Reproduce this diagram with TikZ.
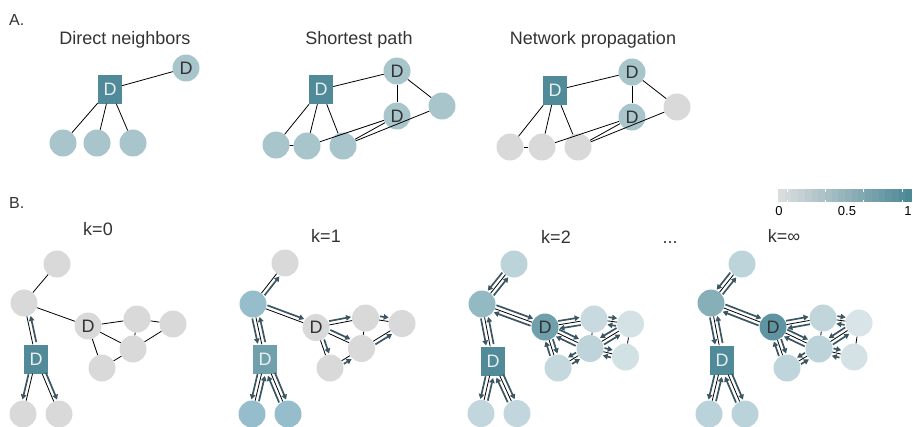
\documentclass[tikz,border=0pt]{standalone}
\usepackage{fontspec}
\setmainfont{Liberation Sans}
\usetikzlibrary{calc,arrows.meta}

\definecolor{ink}{HTML}{333333}
\definecolor{gry}{HTML}{D9D9D9}
\definecolor{tealD}{HTML}{518A98}
\definecolor{tealA}{HTML}{A8C5CC}
\definecolor{flowc}{HTML}{3B5663}
\definecolor{sqtxt}{HTML}{E8EFF1}
\definecolor{cblo}{HTML}{DADDDE}
\definecolor{cbhi}{HTML}{4E8997}
% k=1 scores
\definecolor{oHub}{HTML}{96BDCC}
\definecolor{oSq}{HTML}{70A0AC}
% k=2 scores
\definecolor{tTop}{HTML}{BBD3D9}
\definecolor{tHub}{HTML}{93B9C2}
\definecolor{tD}{HTML}{6FA0AC}
\definecolor{tLeaf}{HTML}{C2D6DE}
\definecolor{tA}{HTML}{C8DADF}
\definecolor{tB}{HTML}{D5E2E5}
\definecolor{tC}{HTML}{BED4DA}
\definecolor{tE}{HTML}{D2E1E4}
\definecolor{tF}{HTML}{C4D8DD}
% k=infinity scores
\definecolor{wTop}{HTML}{BCD4DA}
\definecolor{wHub}{HTML}{86AFB8}
\definecolor{wD}{HTML}{5F95A2}
\definecolor{wLeaf}{HTML}{BAD2DA}
\definecolor{wA}{HTML}{C1D6DB}
\definecolor{wB}{HTML}{D8E4E7}
\definecolor{wC}{HTML}{BCD3D9}
\definecolor{wE}{HTML}{D5E2E5}
\definecolor{wF}{HTML}{BED5DB}

\tikzset{
  dot/.style={circle,inner sep=0pt,minimum size=27pt,text=ink,
    font=\fontsize{18}{18}\selectfont},
  sqnode/.style={rectangle,inner sep=0pt,minimum width=24pt,minimum height=29pt,
    fill=tealD,text=sqtxt,font=\fontsize{18}{18}\selectfont},
  link/.style={draw=black,line width=0.8pt},
  flowarrow/.style={draw=flowc,line width=1.7pt,-{Triangle[length=5pt,width=5.5pt]}},
  ttl/.style={font=\fontsize{18}{18}\selectfont,text=ink,anchor=base,inner sep=0pt},
  plabel/.style={font=\fontsize{16}{16}\selectfont,text=ink,anchor=base west,inner sep=0pt},
  cblabel/.style={font=\fontsize{13}{13}\selectfont,text=black,anchor=base,inner sep=0pt},
}

% offset flow arrows: L = left of travel, R = right of travel
% #1 source, #2 target, #3 gap at source, #4 gap at target
\newcommand\flowL[4]{\draw[flowarrow] ($(#1)!#3!(#2)!3.8pt!90:(#2)$) -- ($(#2)!#4!(#1)!3.8pt!-90:(#1)$);}
\newcommand\flowR[4]{\draw[flowarrow] ($(#1)!#3!(#2)!3.8pt!-90:(#2)$) -- ($(#2)!#4!(#1)!3.8pt!90:(#1)$);}
\newcommand\flowLL[4]{\flowL{#1}{#2}{#3}{#4}\flowL{#2}{#1}{#4}{#3}}
\newcommand\flowRR[4]{\flowR{#1}{#2}{#3}{#4}\flowR{#2}{#1}{#4}{#3}}

\begin{document}
\begin{tikzpicture}[x=1pt,y=-1pt]
\useasboundingbox (0,0) rectangle (913,426);

% ---------------- A. ----------------
\node[plabel] at (9,25) {A.};
\node[ttl] at (125,44) {Direct neighbors};
\node[ttl] at (359,44) {Shortest path};
\node[ttl] at (593,44) {Network propagation};

% direct neighbors
\node[sqnode] (aS) at (110,89) {D};
\node[dot,fill=tealA] (aD) at (186,68) {D};
\node[dot,fill=tealA] (a1) at (63,143) {};
\node[dot,fill=tealA] (a2) at (97,143) {};
\node[dot,fill=tealA] (a3) at (133,143) {};
\draw[link] (aS) -- (aD);
\draw[link] (aS) -- (a1);
\draw[link] (aS) -- (a2);
\draw[link] (aS) -- (a3);

% shortest path
\node[sqnode] (bS) at (321,89.5) {D};
\node[dot,fill=tealA] (bT) at (397,71) {D};
\node[dot,fill=tealA] (bM) at (397,116) {D};
\node[dot,fill=tealA] (bR) at (442,106) {};
\node[dot,fill=tealA] (b1) at (276,145) {};
\node[dot,fill=tealA] (b2) at (307,146) {};
\node[dot,fill=tealA] (b3) at (343,146) {};
\foreach \u/\v in {bS/bT,bS/b1,bS/b2,bS/b3,bT/bM,bT/bR,b1/b2,b2/bM,b3/bM,b3/bR}
  \draw[link] (\u) -- (\v);

% network propagation
\node[sqnode] (cS) at (555,90.5) {D};
\node[dot,fill=tealA] (cT) at (632,72) {D};
\node[dot,fill=tealA] (cM) at (632,117) {D};
\node[dot,fill=gry] (cR) at (677,107) {};
\node[dot,fill=gry] (c1) at (510,147) {};
\node[dot,fill=gry] (c2) at (542,147) {};
\node[dot,fill=gry] (c3) at (578,147) {};
\foreach \u/\v in {cS/cT,cS/c1,cS/c2,cS/c3,cT/cM,cT/cR,c1/c2,c2/cM,c3/cM,c3/cR}
  \draw[link] (\u) -- (\v);

% ---------------- B. ----------------
\node[plabel] at (9,208) {B.};
\node[ttl] at (98,235) {k=0};
\node[ttl] at (326,242) {k=1};
\node[ttl] at (556,243) {k=2};
\node[ttl] at (670,243) {...};
\node[ttl] at (784,242) {k=∞};

% colour scale
\foreach \i in {0,...,19} {
  \pgfmathsetmacro\pc{\i*100/19}
  \fill[cbhi!\pc!cblo] ({778+\i*6.7},189) rectangle ({778+(\i+1)*6.7+0.3},202);
}
\foreach \x in {787,825,863,902} {
  \draw[white,line width=0.6pt] (\x,189) -- (\x,191.5);
  \draw[white,line width=0.6pt] (\x,199.5) -- (\x,202);
}
\node[cblabel] at (779,215) {0};
\node[cblabel] at (847,215) {0.5};
\node[cblabel] at (908,215) {1};

% k=0
\node[dot,fill=gry] (zT) at (57,264) {};
\node[dot,fill=gry] (zH) at (24,303) {};
\node[dot,fill=gry] (zD) at (88,326) {D};
\node[sqnode] (zS) at (36,359) {D};
\node[dot,fill=gry] (zL) at (23,414) {};
\node[dot,fill=gry] (zR) at (59,414) {};
\node[dot,fill=gry] (z1) at (137,319) {};
\node[dot,fill=gry] (z2) at (173,324) {};
\node[dot,fill=gry] (z3) at (133,349) {};
\node[dot,fill=gry] (z4) at (102,368) {};
\foreach \u/\v in {zT/zH,zH/zD,zH/zS,zS/zL,zS/zR,zD/z1,zD/z3,zD/z4,z1/z2,z1/z3,z2/z3,z3/z4}
  \draw[link] (\u) -- (\v);
\flowR{zS}{zH}{16.5pt}{14pt}
\flowR{zS}{zL}{16.5pt}{14pt}
\flowL{zS}{zR}{16.5pt}{14pt}

% k=1
\node[dot,fill=gry] (oT) at (285,263) {};
\node[dot,fill=oHub] (oH) at (253,304) {};
\node[dot,fill=gry] (oD) at (316,327.5) {D};
\node[sqnode,fill=oSq] (oS) at (265,359) {D};
\node[dot,fill=oHub] (oL) at (252,414) {};
\node[dot,fill=oHub] (oR) at (288,414) {};
\node[dot,fill=gry] (o1) at (365.5,318) {};
\node[dot,fill=gry] (o2) at (402,323.5) {};
\node[dot,fill=gry] (o3) at (361.5,348.5) {};
\node[dot,fill=gry] (o4) at (330,368) {};
\foreach \u/\v in {oT/oH,oH/oD,oH/oS,oS/oL,oS/oR,oD/o1,oD/o3,oD/o4,o1/o2,o1/o3,o2/o3,o3/o4}
  \draw[link] (\u) -- (\v);
\flowR{oH}{oT}{14pt}{14pt}
\flowL{oH}{oD}{14pt}{14pt}
\flowRR{oH}{oS}{14pt}{16.5pt}
\flowRR{oS}{oL}{16.5pt}{14pt}
\flowLL{oS}{oR}{16.5pt}{14pt}
\flowL{oD}{o1}{14pt}{14pt}
\flowL{o1}{o2}{14pt}{14pt}
\flowL{oD}{o3}{14pt}{14pt}
\flowR{o3}{o2}{14pt}{14pt}
\flowL{oD}{o4}{14pt}{14pt}
\flowR{o4}{o3}{14pt}{14pt}

% k=2
\node[dot,fill=tTop] (tT) at (514,264) {};
\node[dot,fill=tHub] (tH) at (482,304) {};
\node[dot,fill=tD] (tDn) at (545,327) {D};
\node[sqnode] (tS) at (493,361) {D};
\node[dot,fill=tLeaf] (tL) at (481,413.5) {};
\node[dot,fill=tLeaf] (tR) at (517,413.5) {};
\node[dot,fill=tA] (t1) at (594,319) {};
\node[dot,fill=tB] (t2) at (630.5,324) {};
\node[dot,fill=tC] (t3) at (590,348.5) {};
\node[dot,fill=tE] (t4) at (625.5,357) {};
\node[dot,fill=tF] (t5) at (558,368) {};
\foreach \u/\v in {tT/tH,tH/tDn,tH/tS,tS/tL,tS/tR,tDn/t1,tDn/t3,tDn/t5,t1/t2,t1/t3,t2/t3,t2/t4,t3/t4,t3/t5}
  \draw[link] (\u) -- (\v);
\flowRR{tH}{tT}{14pt}{14pt}
\flowLL{tH}{tDn}{14pt}{14pt}
\flowRR{tH}{tS}{14pt}{16.5pt}
\flowRR{tS}{tL}{16.5pt}{14pt}
\flowLL{tS}{tR}{16.5pt}{14pt}
\flowLL{tDn}{t1}{14pt}{14pt}
\flowLL{t1}{t2}{14pt}{14pt}
\flowLL{tDn}{t3}{14pt}{14pt}
\flowRR{t3}{t2}{14pt}{14pt}
\flowLL{tDn}{t5}{14pt}{14pt}
\flowRR{t5}{t3}{14pt}{14pt}
\flowLL{t3}{t4}{14pt}{14pt}

% k=infinity
\node[dot,fill=wTop] (wT) at (742,264) {};
\node[dot,fill=wHub] (wH) at (711,303) {};
\node[dot,fill=wD] (wDn) at (773,327) {D};
\node[sqnode] (wS) at (722,360) {D};
\node[dot,fill=wLeaf] (wL) at (709,414) {};
\node[dot,fill=wLeaf] (wR) at (745,414) {};
\node[dot,fill=wA] (w1) at (823,318) {};
\node[dot,fill=wB] (w2) at (859,323) {};
\node[dot,fill=wC] (w3) at (819,349) {};
\node[dot,fill=wE] (w4) at (854,357) {};
\node[dot,fill=wF] (w5) at (787,368) {};
\foreach \u/\v in {wT/wH,wH/wDn,wH/wS,wS/wL,wS/wR,wDn/w1,wDn/w3,wDn/w5,w1/w2,w1/w3,w2/w3,w2/w4,w3/w4,w3/w5}
  \draw[link] (\u) -- (\v);
\flowRR{wH}{wT}{14pt}{14pt}
\flowLL{wH}{wDn}{14pt}{14pt}
\flowRR{wH}{wS}{14pt}{16.5pt}
\flowRR{wS}{wL}{16.5pt}{14pt}
\flowLL{wS}{wR}{16.5pt}{14pt}
\flowLL{wDn}{w1}{14pt}{14pt}
\flowLL{w1}{w2}{14pt}{14pt}
\flowLL{wDn}{w3}{14pt}{14pt}
\flowRR{w3}{w2}{14pt}{14pt}
\flowLL{wDn}{w5}{14pt}{14pt}
\flowRR{w5}{w3}{14pt}{14pt}
\flowLL{w3}{w4}{14pt}{14pt}
\end{tikzpicture}
\end{document}
